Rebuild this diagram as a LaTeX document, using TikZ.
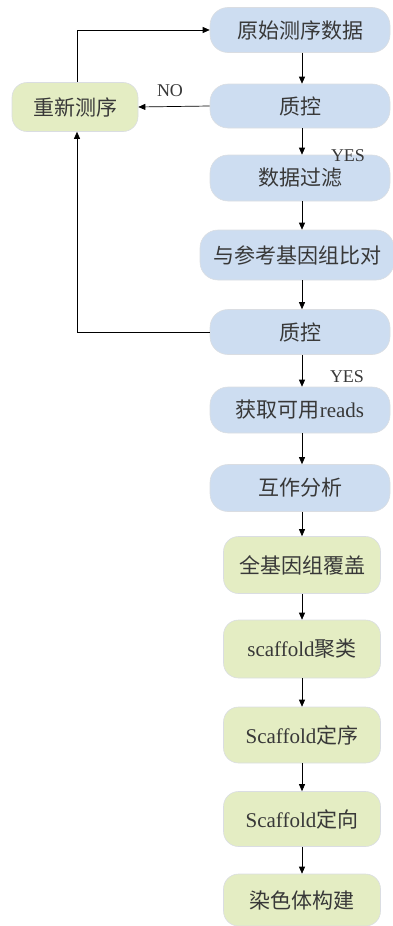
\documentclass[tikz,border=0pt]{standalone}
\usepackage{fontspec}
\setmainfont{Liberation Serif}
\newfontfamily\cjk{Noto Sans CJK SC}
\usetikzlibrary{arrows.meta}
\definecolor{boxblue}{HTML}{CDDDF1}
\definecolor{boxgreen}{HTML}{E4EDC3}
\definecolor{boxline}{HTML}{DADDE2}
\definecolor{txt}{HTML}{383838}
\tikzset{
  basebox/.style={draw=boxline, line width=0.6pt, inner sep=0pt, text=txt, font=\fontsize{21}{23}\selectfont},
  bluebox/.style={basebox, fill=boxblue, rounded corners=18pt, minimum width=180pt, minimum height=45pt},
  greenbox/.style={basebox, fill=boxgreen, rounded corners=15pt, minimum width=157pt, minimum height=56pt},
  arr/.style={draw=black, line width=0.7pt, -{Triangle[length=7pt,width=6pt]}},
  lbl/.style={text=txt, font=\fontsize{18}{20}\selectfont, inner sep=0pt}
}
\begin{document}
\begin{tikzpicture}[x=1pt,y=-1pt]
\useasboundingbox (0,0) rectangle (392,926);
\node[bluebox] (n1) at (300,30) {\cjk 原始测序数据};
\node[bluebox, minimum height=44pt] (q1) at (300,106) {\cjk 质控};
\node[bluebox, minimum height=46pt] (f) at (300,178) {\cjk 数据过滤};
\node[bluebox, minimum width=194pt, minimum height=50pt] (a) at (297,255) {\cjk 与参考基因组比对};
\node[bluebox] (q2) at (300,332) {\cjk 质控};
\node[bluebox, minimum height=46pt] (r) at (300,410) {{\cjk 获取可用}reads};
\node[bluebox, minimum height=47pt] (i) at (300,488) {\cjk 互作分析};
\node[greenbox, minimum height=57pt] (g1) at (302,565) {\cjk 全基因组覆盖};
\node[greenbox, minimum height=58pt] (g2) at (302,649) {scaffold{\cjk 聚类}};
\node[greenbox] (g3) at (302,735) {Scaffold{\cjk 定序}};
\node[greenbox, minimum height=55pt] (g4) at (302,819) {Scaffold{\cjk 定向}};
\node[greenbox, minimum height=52pt] (g5) at (302,900) {\cjk 染色体构建};
\node[greenbox, minimum width=126pt, minimum height=49pt] (re) at (75,107) {\cjk 重新测序};

\node[lbl] (no) at (170,91) {NO};
\node[lbl] (yes1) at (348,156) {YES};
\node[lbl] (yes2) at (347,377) {YES};

\draw[arr] (n1.south -| 302,0) -- (q1.north -| 302,0);
\draw[arr] (q1.south -| 302,0) -- (f.north -| 302,0);
\draw[arr] (f.south -| 302,0) -- (a.north -| 302,0);
\draw[arr] (a.south -| 302,0) -- (q2.north -| 302,0);
\draw[arr] (q2.south -| 302,0) -- (r.north -| 302,0);
\draw[arr] (r.south -| 302,0) -- (i.north -| 302,0);
\draw[arr] (i.south -| 302,0) -- (g1.north -| 302,0);
\draw[arr] (g1.south -| 302,0) -- (g2.north -| 302,0);
\draw[arr] (g2.south -| 302,0) -- (g3.north -| 302,0);
\draw[arr] (g3.south -| 302,0) -- (g4.north -| 302,0);
\draw[arr] (g4.south -| 302,0) -- (g5.north -| 302,0);

\draw[arr] (q1.west) -- (re.east);
\draw[arr] (re.north -| 77,0) |- (n1.west);
\draw[arr] (q2.west) -| (re.south -| 77,0);
\end{tikzpicture}
\end{document}
